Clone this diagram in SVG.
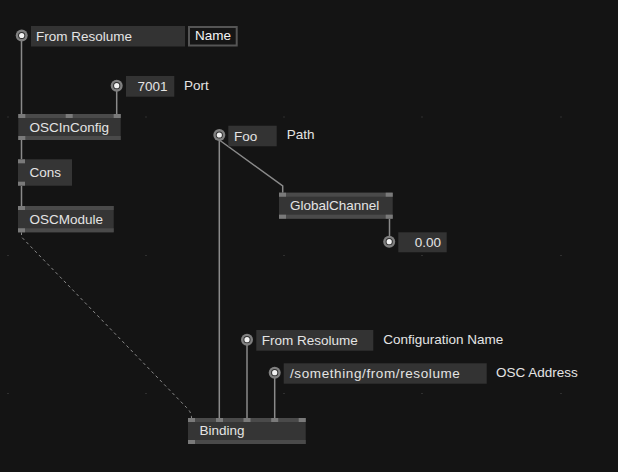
<svg xmlns="http://www.w3.org/2000/svg" width="618" height="472" viewBox="0 0 618 472">
<style>
.bg{fill:#141414}
.dot{fill:#4a4a4a}
.body{fill:#353535}
.strip{fill:#4a4a4a}
.pin{fill:#7a7a7a}
.io{fill:#333333}
.t{font-family:"Liberation Sans",Arial,sans-serif;font-size:13.5px;fill:#e4e4e4}
.lbl{font-family:"Liberation Sans",Arial,sans-serif;font-size:13.5px;fill:#e4e4e4}
.wire{stroke:#8a8a8a;stroke-width:1.5;fill:none}
.dash{stroke:#8a8a8a;stroke-width:1;fill:none;stroke-dasharray:3 3}
</style>
<defs>
<g id="iopin"><circle r="6" fill="#808080"/><circle r="3.6" fill="#2e2e2e"/><circle r="2.6" fill="#f2f2f2"/></g>
</defs>
<rect class="bg" width="618" height="472"/>
<g id="grid">
<rect class="dot" x="7.5" y="116.5" width="1" height="1"/><rect class="dot" x="145.5" y="116.5" width="1" height="1"/><rect class="dot" x="283.5" y="116.5" width="1" height="1"/><rect class="dot" x="421.5" y="116.5" width="1" height="1"/><rect class="dot" x="560.5" y="116.5" width="1" height="1"/>
<rect class="dot" x="7.5" y="255" width="1" height="1"/><rect class="dot" x="145.5" y="255" width="1" height="1"/><rect class="dot" x="283.5" y="255" width="1" height="1"/><rect class="dot" x="421.5" y="255" width="1" height="1"/><rect class="dot" x="560.5" y="255" width="1" height="1"/>
<rect class="dot" x="7.5" y="393" width="1" height="1"/><rect class="dot" x="145.5" y="393" width="1" height="1"/><rect class="dot" x="283.5" y="393" width="1" height="1"/><rect class="dot" x="421.5" y="393" width="1" height="1"/><rect class="dot" x="560.5" y="393" width="1" height="1"/>
</g>
<g id="connectors">
<path class="wire" d="M21.5,41 V114"/>
<path class="wire" d="M116.7,91 V114"/>
<path class="wire" d="M21.5,140 V159"/>
<path class="wire" d="M21.5,186 V206"/>
<path class="dash" d="M21.5,232 V237 L186,407 Q191.5,412 191.5,418"/>
<path class="wire" d="M219.3,140 L282.7,186 V193"/>
<path class="wire" d="M219.3,140 V418"/>
<path class="wire" d="M389.5,218 V236"/>
<path class="wire" d="M247,345 V418"/>
<path class="wire" d="M274.7,378 V418"/>
</g>
<g id="iobox-from-resolume">
<use href="#iopin" x="21.7" y="35.5"/>
<rect class="io" x="31" y="26" width="154" height="20.5"/>
<text class="t" x="36" y="40.8">From Resolume</text>
</g>
<g id="name-label">
<rect x="189" y="27" width="47.7" height="18.5" fill="#151515" stroke="#555" stroke-width="2"/>
<text class="t" x="195" y="40.3" style="fill:#f4f4f4">Name</text>
</g>
<g id="iobox-port">
<use href="#iopin" x="116.7" y="85.7"/>
<rect class="io" x="126" y="76" width="48.3" height="20.7"/>
<text class="t" x="167.5" y="91" text-anchor="end">7001</text>
<text class="lbl" x="184" y="89.5">Port</text>
</g>
<g id="OSCInConfig">
<rect class="body" x="18.3" y="114" width="102.4" height="26"/>
<rect class="strip" x="18.3" y="114" width="102.4" height="4"/>
<rect class="strip" x="18.3" y="136" width="102.4" height="4"/>
<rect class="pin" x="18.3" y="114" width="7" height="4"/>
<rect class="pin" x="65.7" y="114" width="7" height="4"/>
<rect class="pin" x="113.7" y="114" width="7" height="4"/>
<rect class="pin" x="18.3" y="136" width="7" height="4"/>
<text class="t" x="29.5" y="131.5">OSCInConfig</text>
</g>
<g id="Cons">
<rect class="body" x="18" y="159.3" width="54" height="26.4"/>
<rect class="pin" x="18" y="159.3" width="7" height="4"/>
<rect class="pin" x="18" y="181.7" width="7" height="4"/>
<text class="t" x="29.5" y="177">Cons</text>
</g>
<g id="OSCModule">
<rect class="body" x="18" y="206" width="95.7" height="26.3"/>
<rect class="strip" x="18" y="206" width="95.7" height="4"/>
<rect class="strip" x="18" y="228.3" width="95.7" height="4"/>
<rect class="pin" x="18" y="206" width="7" height="4"/>
<rect class="pin" x="18" y="228.3" width="7" height="4"/>
<text class="t" x="29.5" y="223.5">OSCModule</text>
</g>
<g id="iobox-path">
<use href="#iopin" x="219.3" y="135"/>
<rect class="io" x="228.3" y="125.7" width="48.4" height="20.6"/>
<text class="t" x="234" y="140.5">Foo</text>
<text class="lbl" x="286.7" y="139">Path</text>
</g>
<g id="GlobalChannel">
<rect class="body" x="279" y="192.7" width="113.7" height="26"/>
<rect class="strip" x="279" y="192.7" width="113.7" height="4"/>
<rect class="strip" x="279" y="214.7" width="113.7" height="4"/>
<rect class="pin" x="279" y="192.7" width="7" height="4"/>
<rect class="pin" x="385.7" y="192.7" width="7" height="4"/>
<rect class="pin" x="279" y="214.7" width="7" height="4"/>
<rect class="pin" x="385.7" y="214.7" width="7" height="4"/>
<text class="t" x="290" y="210">GlobalChannel</text>
</g>
<g id="iobox-value">
<use href="#iopin" x="389.2" y="241.7"/>
<rect class="io" x="398.3" y="232.3" width="48.4" height="20"/>
<text class="t" x="441" y="247" text-anchor="end">0.00</text>
</g>
<g id="iobox-config-name">
<use href="#iopin" x="247" y="339.7"/>
<rect class="io" x="256.3" y="330" width="117" height="20.7"/>
<text class="t" x="261.7" y="344.8">From Resolume</text>
<text class="lbl" x="383.3" y="343.5">Configuration Name</text>
</g>
<g id="iobox-osc-address">
<use href="#iopin" x="274.7" y="372.7"/>
<rect class="io" x="283.7" y="363.3" width="203" height="20.4"/>
<text class="t" x="290" y="378" letter-spacing="0.6">/something/from/resolume</text>
<text class="lbl" x="496" y="376.5">OSC Address</text>
</g>
<g id="Binding">
<rect class="body" x="188" y="418" width="117.7" height="26"/>
<rect class="strip" x="188" y="418" width="117.7" height="4"/>
<rect class="strip" x="188" y="440" width="117.7" height="4"/>
<rect class="pin" x="188" y="418" width="7" height="4"/>
<rect class="pin" x="216" y="418" width="7" height="4"/>
<rect class="pin" x="243.5" y="418" width="7" height="4"/>
<rect class="pin" x="271.2" y="418" width="7" height="4"/>
<rect class="pin" x="298.7" y="418" width="7" height="4"/>
<rect class="pin" x="188" y="440" width="7" height="4"/>
<text class="t" x="199.5" y="435">Binding</text>
</g>
</svg>
